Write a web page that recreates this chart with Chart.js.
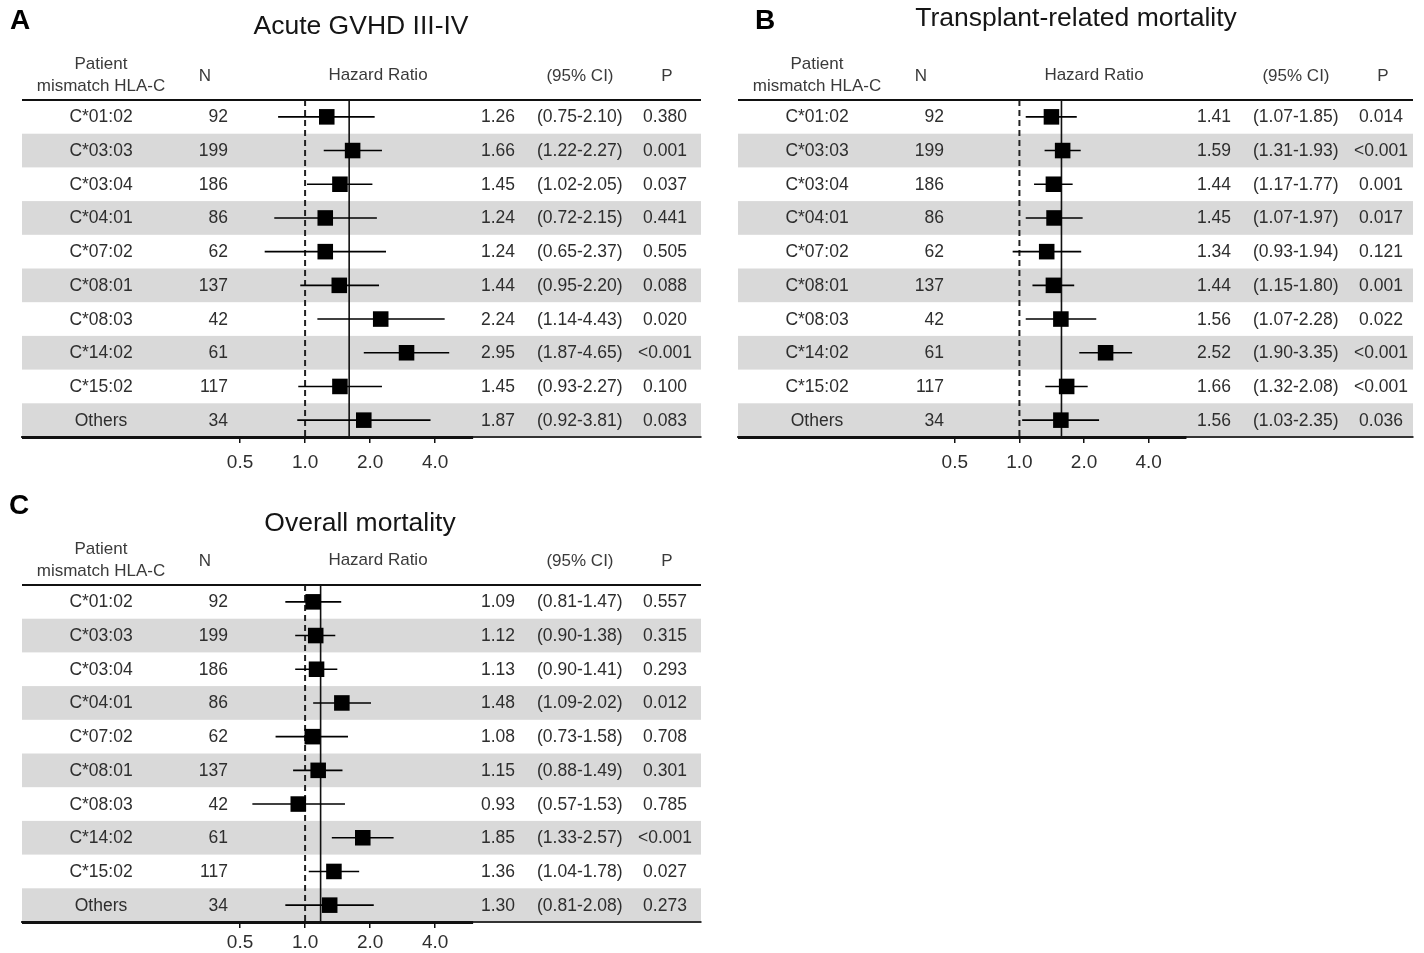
<!DOCTYPE html>
<html>
<head>
<meta charset="utf-8">
<title>HLA-C mismatch forest plots</title>
<script src="https://cdn.jsdelivr.net/npm/chart.js@4.4.1/dist/chart.umd.min.js"></script>
<style>
body { margin: 0; background: #fff; }
#page { position: relative; width: 1424px; height: 953px; overflow: hidden;
        font-family: "Liberation Sans", Arial, sans-serif; color: #222; }
canvas { position: absolute; }
.t { position: absolute; white-space: nowrap; line-height: 1; }
.c { transform: translate(-50%, -50%); }
.r { transform: translate(-100%, -50%); }
.l { transform: translate(0, -50%); }
.row { font-size: 17.5px; color: #2e2e2e; }
.hd { font-size: 17px; color: #3a3a3a; }
.title { font-size: 26.5px; color: #151515; }
.letter { font-size: 28px; font-weight: bold; color: #000; }
</style>
</head>
<body>
<div id="page"></div>
<script>
// ROWS (same for all three panels)
const alleles = ['C*01:02', 'C*03:03', 'C*03:04', 'C*04:01', 'C*07:02', 'C*08:01', 'C*08:03', 'C*14:02', 'C*15:02', 'Others'];
const patientsN = [92, 199, 186, 86, 62, 137, 42, 61, 117, 34];

// ACUTE GVHD III-IV
const gvhdHR   = [1.26, 1.66, 1.45, 1.24, 1.24, 1.44, 2.24, 2.95, 1.45, 1.87];
const gvhdLow  = [0.75, 1.22, 1.02, 0.72, 0.65, 0.95, 1.14, 1.87, 0.93, 0.92];
const gvhdHigh = [2.10, 2.27, 2.05, 2.15, 2.37, 2.20, 4.43, 4.65, 2.27, 3.81];
const gvhdP    = ['0.380', '0.001', '0.037', '0.441', '0.505', '0.088', '0.020', '<0.001', '0.100', '0.083'];

// TRANSPLANT-RELATED MORTALITY
const trmHR   = [1.41, 1.59, 1.44, 1.45, 1.34, 1.44, 1.56, 2.52, 1.66, 1.56];
const trmLow  = [1.07, 1.31, 1.17, 1.07, 0.93, 1.15, 1.07, 1.90, 1.32, 1.03];
const trmHigh = [1.85, 1.93, 1.77, 1.97, 1.94, 1.80, 2.28, 3.35, 2.08, 2.35];
const trmP    = ['0.014', '<0.001', '0.001', '0.017', '0.121', '0.001', '0.022', '<0.001', '<0.001', '0.036'];

// OVERALL MORTALITY
const omHR   = [1.09, 1.12, 1.13, 1.48, 1.08, 1.15, 0.93, 1.85, 1.36, 1.30];
const omLow  = [0.81, 0.90, 0.90, 1.09, 0.73, 0.88, 0.57, 1.33, 1.04, 0.81];
const omHigh = [1.47, 1.38, 1.41, 2.02, 1.58, 1.49, 1.53, 2.57, 1.78, 2.08];
const omP    = ['0.557', '0.315', '0.293', '0.012', '0.708', '0.301', '0.785', '<0.001', '0.027', '0.273'];

// solid line = overall hazard ratio of each panel
const overallHR = [1.60, 1.57, 1.18];
const axisTicks = [0.5, 1.0, 2.0, 4.0];
const axisEnd = 6.0;   // heavy part of the x axis stops here

const page = document.getElementById('page');

// scale layout: 1.0 sits 283.5px right of the table edge, 65.1px per doubling
const ONE_OFFSET = 283.5, PER_DOUBLING = 65.1, AREA_W = 680;
const xMin = Math.pow(2, -ONE_OFFSET / PER_DOUBLING);
const xMax = Math.pow(2, (AREA_W - ONE_OFFSET) / PER_DOUBLING);

const panels = [
	{ letter: 'A', title: 'Acute GVHD III-IV', left: 0, top: 0, width: 712, height: 480,
	  letterPos: [20, 20], titlePos: [361, 25], labelPad: 8,
	  hr: gvhdHR, lo: gvhdLow, hi: gvhdHigh, p: gvhdP, overall: overallHR[0] },
	{ letter: 'B', title: 'Transplant-related mortality', left: 716, top: 0, width: 708, height: 480,
	  letterPos: [765, 20], titlePos: [1076, 17], labelPad: 8,
	  hr: trmHR, lo: trmLow, hi: trmHigh, p: trmP, overall: overallHR[1] },
	{ letter: 'C', title: 'Overall mortality', left: 0, top: 485, width: 712, height: 468,
	  letterPos: [19, 505], titlePos: [360, 522], labelPad: 3,
	  hr: omHR, lo: omLow, hi: omHigh, p: omP, overall: overallHR[2] }
];

function addText(str, x, y, cls){
	const d = document.createElement('div');
	d.className = 't ' + cls;
	d.textContent = str;
	d.style.left = x + 'px';
	d.style.top = y + 'px';
	page.appendChild(d);
}

// bands, header rule and heavy axis part
const forestDecor = {
	id: 'forestDecor',
	beforeDraw(chart){
		const {ctx, chartArea, scales: {y}} = chart;
		ctx.save();
		ctx.fillStyle = '#d9d9d9';
		for(let i = 1; i < alleles.length; i += 2){
			const top = y.getPixelForValue(i - 0.5);
			const bot = y.getPixelForValue(i + 0.5);
			ctx.fillRect(chartArea.left, top, chartArea.right - chartArea.left, bot - top);
		}
		ctx.restore();
	},
	afterDraw(chart){
		const {ctx, chartArea, scales: {x}} = chart;
		ctx.save();
		ctx.strokeStyle = '#111';
		ctx.lineWidth = 2;
		ctx.beginPath();
		ctx.moveTo(chartArea.left, chartArea.top);
		ctx.lineTo(chartArea.right, chartArea.top);
		ctx.stroke();
		ctx.lineWidth = 3;
		ctx.beginPath();
		ctx.moveTo(chartArea.left, chartArea.bottom + 0.5);
		ctx.lineTo(x.getPixelForValue(axisEnd), chartArea.bottom + 0.5);
		ctx.stroke();
		ctx.restore();
	}
};

panels.forEach(panel => {
	const canvas = document.createElement('canvas');
	canvas.width = panel.width;
	canvas.height = panel.height;
	canvas.style.left = panel.left + 'px';
	canvas.style.top = panel.top + 'px';
	page.appendChild(canvas);

	const whiskers = panel.hr.map((v, i) => ({
		type: 'line',
		data: [{x: panel.lo[i], y: i}, {x: panel.hi[i], y: i}],
		borderColor: '#000',
		borderWidth: 1.6,
		pointRadius: 0,
		order: 2
	}));

	const chart = new Chart(canvas.getContext('2d'), {
		type: 'scatter',
		data: {
			datasets: [
				{
					type: 'line',
					data: [{x: 1, y: -0.5}, {x: 1, y: alleles.length - 0.5}],
					borderColor: '#222',
					borderWidth: 2,
					borderDash: [6, 4],
					pointRadius: 0,
					order: 3
				},
				{
					type: 'line',
					data: [{x: panel.overall, y: -0.5}, {x: panel.overall, y: alleles.length - 0.5}],
					borderColor: '#111',
					borderWidth: 1.6,
					pointRadius: 0,
					order: 3
				},
				...whiskers,
				{
					data: panel.hr.map((v, i) => ({x: v, y: i})),
					pointStyle: 'rect',
					pointRadius: 11,
					pointBorderWidth: 0,
					backgroundColor: '#000',
					borderColor: '#000',
					order: 0
				}
			]
		},
		options: {
			responsive: false,
			animation: false,
			layout: { padding: { left: 22, right: panel.width - 22 - AREA_W, top: 100, bottom: 0 } },
			plugins: { legend: { display: false }, tooltip: { enabled: false } },
			scales: {
				x: {
					type: 'logarithmic',
					min: xMin,
					max: xMax,
					bounds: 'data',
					afterBuildTicks: s => { s.ticks = axisTicks.map(v => ({value: v})); },
					afterFit: s => { s.height = panel.height - 437; },
					ticks: {
						autoSkip: false,
						maxRotation: 0,
						padding: panel.labelPad,
						color: '#2e2e2e',
						font: { family: '"Liberation Sans", Arial, sans-serif', size: 19 },
						callback: v => Number(v).toFixed(1)
					},
					grid: { display: true, drawOnChartArea: false, drawTicks: true, tickLength: 6, color: '#111', lineWidth: 1.5 },
					border: { display: true, color: '#333', width: 2 }
				},
				y: {
					type: 'linear',
					reverse: true,
					min: -0.5,
					max: alleles.length - 0.5,
					display: false
				}
			}
		},
		plugins: [forestDecor]
	});

	// TEXT COLUMNS
	const L = panel.left, T = panel.top;
	addText(panel.letter, panel.letterPos[0], panel.letterPos[1], 'c letter');
	addText(panel.title, panel.titlePos[0], panel.titlePos[1], 'c title');
	addText('Patient', L + 101, T + 63, 'c hd');
	addText('mismatch HLA-C', L + 101, T + 85, 'c hd');
	addText('N', L + 205, T + 75, 'c hd');
	addText('Hazard Ratio', L + 378, T + 74, 'c hd');
	addText('(95% CI)', L + 580, T + 75, 'c hd');
	addText('P', L + 667, T + 75, 'c hd');

	const y = chart.scales.y;
	alleles.forEach((a, i) => {
		const py = T + y.getPixelForValue(i) + 0.5;
		addText(a, L + 101, py, 'c row');
		addText(String(patientsN[i]), L + 228, py, 'r row');
		addText(panel.hr[i].toFixed(2), L + 515, py, 'r row');
		addText(`(${panel.lo[i].toFixed(2)}-${panel.hi[i].toFixed(2)})`, L + 537, py, 'l row');
		addText(panel.p[i], L + 665, py, 'c row');
	});
});
</script>
</body>
</html>
